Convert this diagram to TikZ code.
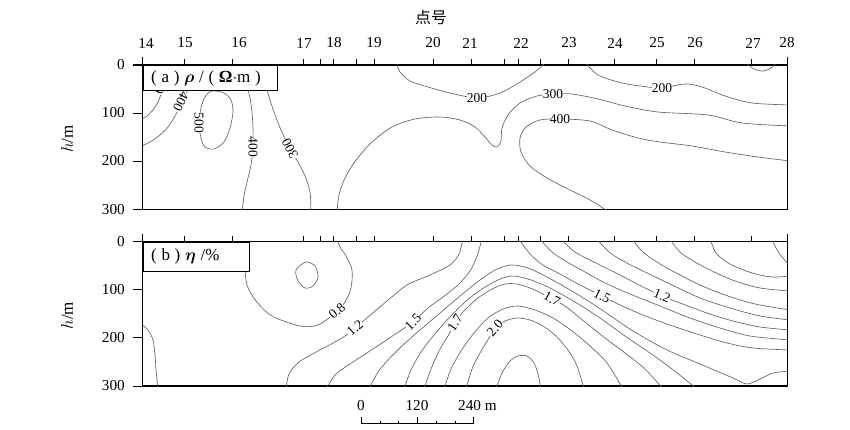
\documentclass[tikz,border=0pt]{standalone}
\usepackage{amsmath}
\usepackage{fontspec}
\setmainfont{Liberation Serif}
\newfontfamily\cjk{Noto Sans CJK SC}
\usepackage{tikz}
\newcommand\tagsep{\hspace{4pt}}

\begin{document}
\begin{tikzpicture}[x=0.03cm,y=-0.03cm,
    frame/.style={line width=1.1pt},
    tick/.style={line width=0.6pt},
    contour/.style={black!62,line width=0.55pt},
    clabel/.style={fill=white,inner sep=0.3pt,font=\fontsize{11.5}{11.5}\selectfont},
    axlabel/.style={inner sep=0pt,font=\fontsize{13}{13}\selectfont},
    tagbox/.style={draw,line width=0.9pt,fill=white}]
  \useasboundingbox[fill=white] (0,0) rectangle (850,430);

  % axis title and station numbers
  \node[font=\cjk\fontsize{13.5}{13.5}\selectfont] (title) at (431,17) {点号};
  \foreach \lx/\st in {146/14,185/15,239/16,304/17,334/18,374/19,433/20,470/21,
                       521/22,569/23,615/24,657/25,695/26,753/27,787/28}
    \node[axlabel] (st\st) at (\lx,43) {\st};

  % frames, ticks and depths of both sections
  \foreach \dy/\p in {0/a,176.7/b} {
    \begin{scope}[shift={(0,\dy)}]
      \draw[frame] (133,65) -- (787.7,65);
      \draw[frame] (142.7,57) -- (142.7,209.3) -- (787.7,209.3) -- (787.7,57);
      \foreach \x in {184.3,232.3,303.3,320.7,333.3,356.7,374,433.3,471,504.3,
                      518.3,540,568.3,614,656.7,694.3,751.7}
        \draw[tick] (\x,65) -- (\x,59);
      \foreach \y/\dep in {65/0,113/100,161/200,209.3/300} {
        \draw[tick] (133,\y) -- (142.7,\y);
        \node[axlabel,anchor=east] (dep\p\dep) at (125,\y) {\dep};
      }
      \node[axlabel,rotate=90,font=\fontsize{14.5}{14.5}\selectfont] (unit\p) at (67,139) {$h$/m};
    \end{scope}
  }

  % (a) resistivity
  \begin{scope}
    \clip (142.7,65) rectangle (787.7,209.3);
    \draw[contour] plot[smooth] coordinates {(140,120) (147,116) (153,110) (158,102) (161,94) (163,86)};
    \draw[contour] plot[smooth] coordinates {(140,147) (150,142) (160,135) (168,127) (175,116) (181,104) (186,94) (189,86)};
    \draw[contour] plot[smooth cycle] coordinates {(212,91) (224,93) (231,100) (233,112) (230,128) (224,142) (214,149) (205,147) (201,138) (199,124) (201,108) (205,97)};
    \draw[contour] plot[smooth] coordinates {(247,86) (250,98) (252,112) (253,128) (253,146) (251,165) (247,182) (244,196) (242,212)};
    \draw[contour] plot[smooth] coordinates {(266,86) (270,100) (275,115) (281,130) (289,147) (298,162) (305,176) (310,192) (311,212)};
    \draw[contour] plot[smooth] coordinates {(337,212) (339,195) (345,178) (356,160) (372,142) (392,127) (415,119) (440,117) (460,120) (475,127) (485,137) (492,145) (497,147) (501,141) (502,128) (508,115) (520,103) (537,96) (553,94) (572,94) (598,99) (625,106) (658,112) (708,115) (742,123) (790,126)};
    \draw[contour] plot[smooth] coordinates {(396,62) (400,72) (410,81) (428,87) (450,93) (477,98) (500,93) (520,82) (535,72) (546,62)};
    \draw[contour] plot[smooth] coordinates {(609,212) (590,200) (568,189) (547,178) (530,166) (521,152) (520,138) (526,127) (540,120) (560,119) (590,121) (612,130) (638,138) (660,142) (692,146) (725,152) (758,157) (790,161)};
    \draw[contour] plot[smooth] coordinates {(585,62) (598,75) (622,83) (648,87) (662,88) (685,84) (702,87) (725,96) (752,103) (790,105)};
    \draw[contour] plot[smooth] coordinates {(745,62) (754,69) (763,71) (771,68) (777,62)};
    \node[clabel,rotate=-115] (ra1) at (162,84) {300};
    \node[clabel,rotate=-117] (ra2) at (181,102) {400};
    \node[clabel,rotate=-90] (ra3) at (199,123) {500};
    \node[clabel,rotate=-90] (ra4) at (253,147) {400};
    \node[clabel,rotate=118] (ra5) at (290,149) {300};
    \node[clabel] (ra6) at (553,94) {300};
    \node[clabel] (ra7) at (477,98) {200};
    \node[clabel] (ra8) at (560,119) {400};
    \node[clabel] (ra9) at (662,88) {200};
  \end{scope}
  \node[tagbox,minimum width=134.3*0.03cm,minimum height=25*0.03cm,anchor=north west] (tagA) at (142.7,65) {};
  \node[anchor=west,inner sep=0pt,font=\fontsize{14.5}{14.5}\selectfont] (tagAtext) at (151,78)
    {(\tagsep a\tagsep)\tagsep$\boldsymbol{\rho}$\tagsep/\tagsep(\tagsep\textbf{Ω}$\cdot$m\tagsep)};

  % (b) polarizability
  \begin{scope}
    \clip (142.7,241.7) rectangle (787.7,386);
    \draw[contour] plot[smooth] coordinates {(140,323) (148,330) (153,340) (155,355) (156,370) (158,389)};
    \draw[contour] plot[smooth] coordinates {(245,268) (247,285) (256,301) (272,316) (300,326) (318,325) (335,313) (345,302) (351,288) (352,270) (346,256) (340,247) (337,239)};
    \draw[contour] plot[smooth cycle] coordinates {(306,262) (315,266) (318,277) (313,286) (305,288) (298,281) (296,270)};
    \draw[contour] plot[smooth] coordinates {(286,389) (289,374) (299,362) (318,351) (342,338) (355,328) (368,317) (387,301) (407,285) (430,275) (450,265) (459,254) (463,239)};
    \draw[contour] plot[smooth] coordinates {(326,389) (336,374) (353,362) (373,349) (394,335) (413,322) (428,308) (443,297) (458,285) (470,271) (477,256) (482,239)};
    \draw[contour] plot[smooth] coordinates {(369,389) (378,372) (389,359) (403,345) (420,330) (440,313) (460,296) (480,280) (497,269) (512,265) (528,268) (545,276) (565,287) (585,299) (605,312) (633,331) (667,350) (700,364) (733,378) (747,384) (760,379) (773,373) (790,371)};
    \draw[contour] plot[smooth] coordinates {(404,389) (411,370) (421,352) (434,335) (449,318) (465,302) (482,289) (498,280) (512,276) (528,279) (548,287) (575,302) (600,318) (625,336) (650,353) (672,369) (697,389)};
    \draw[contour] plot[smooth] coordinates {(424,389) (431,369) (440,349) (448,336) (455,323) (463,312) (478,298) (492,289) (505,284) (517,284) (530,288) (541,293) (552,299) (565,306) (585,322) (605,338) (625,353) (645,369) (663,389)};
    \draw[contour] plot[smooth] coordinates {(444,389) (451,369) (461,351) (474,333) (488,318) (503,309) (518,306) (535,310) (553,318) (572,331) (590,346) (607,363) (623,389)};
    \draw[contour] plot[smooth] coordinates {(466,389) (472,369) (480,353) (489,338) (495,328) (505,321) (517,318) (530,320) (543,326) (556,336) (568,350) (577,366) (584,389)};
    \draw[contour] plot[smooth] coordinates {(496,389) (502,373) (510,361) (518,356) (527,356) (534,363) (538,374) (541,389)};
    \draw[contour] plot[smooth] coordinates {(518,238) (530,254) (543,265) (560,274) (580,285) (602,296) (620,305) (643,315) (667,324) (700,335) (727,343) (753,348) (790,350)};
    \draw[contour] plot[smooth] coordinates {(539,238) (552,252) (567,262) (585,272) (605,283) (630,294) (660,306) (690,318) (720,328) (750,336) (790,340)};
    \draw[contour] plot[smooth] coordinates {(560,238) (575,252) (600,265) (620,275) (643,287) (662,296) (680,303) (707,313) (733,321) (760,327) (790,330)};
    \draw[contour] plot[smooth] coordinates {(596,238) (609,252) (625,262) (645,272) (670,284) (700,298) (730,308) (760,316) (790,320)};
    \draw[contour] plot[smooth] coordinates {(631,238) (643,252) (660,264) (680,275) (700,285) (725,295) (755,304) (790,310)};
    \draw[contour] plot[smooth] coordinates {(669,238) (680,252) (695,262) (712,271) (735,281) (760,288) (790,291)};
    \draw[contour] plot[smooth] coordinates {(710,238) (716,253) (730,264) (752,273) (772,277) (790,276)};
    \draw[contour] plot[smooth] coordinates {(771,238) (779,253) (790,266)};
    \node[clabel,rotate=40] (eb1) at (337,311) {0.8};
    \node[clabel,rotate=40] (eb2) at (355,328) {1.2};
    \node[clabel,rotate=45] (eb3) at (413,322) {1.5};
    \node[clabel,rotate=57] (eb4) at (455,323) {1.7};
    \node[clabel,rotate=48] (eb5) at (495,328) {2.0};
    \node[clabel,rotate=-28] (eb6) at (552,299) {1.7};
    \node[clabel,rotate=-27] (eb7) at (602,296) {1.5};
    \node[clabel,rotate=-23] (eb8) at (662,296) {1.2};
  \end{scope}
  \node[tagbox,minimum width=106.3*0.03cm,minimum height=29*0.03cm,anchor=north west] (tagB) at (142.7,241.7) {};
  \node[anchor=west,inner sep=0pt,font=\fontsize{14.5}{14.5}\selectfont] (tagBtext) at (151,256)
    {(\tagsep b\tagsep)\tagsep$\boldsymbol{\eta}$\tagsep/\%};

  % scale bar
  \coordinate (bar0) at (361,423);
  \coordinate (bar1) at (473,423);
  \draw[tick] ([yshift=6*0.03cm]bar0) -- (bar0) -- (bar1) -- ([yshift=6*0.03cm]bar1);
  \draw[tick] (417,423) -- (417,417);
  \foreach \x in {380,398,436,455} \draw[tick] (\x,423) -- (\x,421);
  \node[axlabel] (sc0) at (361,406) {0};
  \node[axlabel] (sc1) at (417,406) {120};
  \node[axlabel,anchor=west] (sc2) at (458,406) {240 m};
\end{tikzpicture}
\end{document}
